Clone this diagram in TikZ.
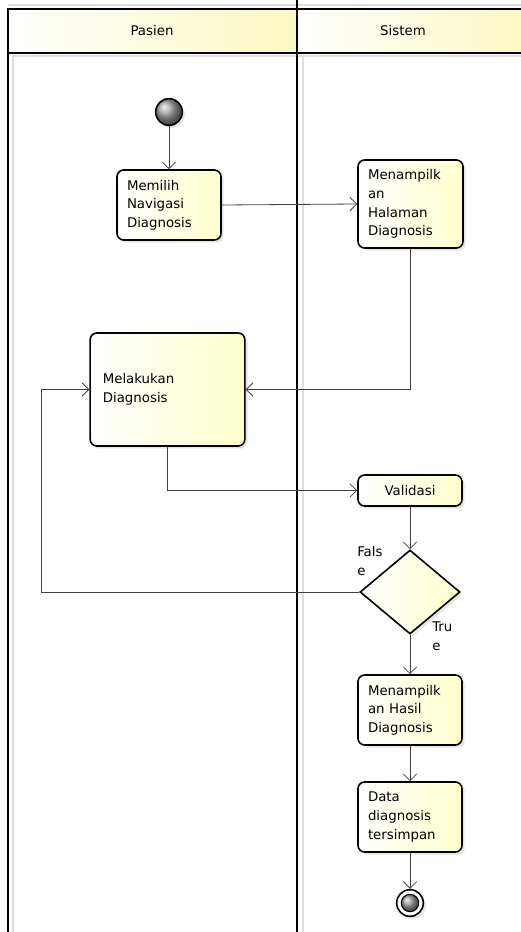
\documentclass[tikz,border=0pt]{standalone}
\usepackage{fontspec}
\setmainfont{DejaVu Sans}
\usetikzlibrary{shapes.geometric,arrows.meta,shadows}
\definecolor{actfill}{RGB}{255,255,205}
\definecolor{lanehead}{RGB}{250,248,192}
\definecolor{shadowgray}{RGB}{222,222,222}

\begin{document}
\begin{tikzpicture}[x=0.75pt,y=-0.75pt,>={Straight Barb[length=5pt,width=10pt]},
    flow/.style={->,draw=black!75,line width=0.6pt},
    act/.style={draw,line width=1.2pt,rounded corners=5pt,left color=white,right color=actfill,
        drop shadow={opacity=0.2,shadow xshift=2pt,shadow yshift=-2pt},
        font=\fontsize{10}{14}\selectfont,align=left,inner xsep=7.5pt,inner ysep=2pt},
    decision/.style={diamond,draw,line width=1.2pt,left color=white,right color=actfill,
        drop shadow={opacity=0.2,shadow xshift=2pt,shadow yshift=-2pt},inner sep=0pt},
    guard/.style={font=\fontsize{10}{14}\selectfont,align=left,inner sep=0pt},
    lanetitle/.style={font=\fontsize{10}{12}\selectfont}]
    \useasboundingbox (0,0) rectangle (521,932);
    % swimlanes
    \fill[left color=white,right color=lanehead] (8,10) rectangle (297,53);
    \fill[left color=white,right color=lanehead] (297,10) rectangle (530,53);
    \draw[shadowgray,line width=0.8pt] (8,5) -- (530,5);
    \draw[shadowgray,line width=1pt] (13,56) -- (530,56);
    \draw[shadowgray,line width=1pt] (13,56) -- (13,940);
    \draw[shadowgray,line width=1pt] (303,56) -- (303,940);
    \draw[line width=1.5pt] (530,9) -- (8,9) -- (8,940);
    \draw[line width=1.5pt] (8,53) -- (530,53);
    \draw[line width=1.5pt] (297,0) -- (297,940);
    \node[lanetitle] (pasien) at (152,31) {Pasien};
    \node[lanetitle] (sistem) at (403,31) {Sistem};
    % nodes
    \node[circle,draw,line width=1.2pt,minimum size=20pt,inner sep=0pt,ball color=gray!75,
        drop shadow={opacity=0.2,shadow xshift=2pt,shadow yshift=-2pt}] (start) at (169,112) {};
    \node[act,text width=63pt,minimum height=52.5pt] (memilih) at (169,205)
        {Memilih\\Navigasi\\Diagnosis};
    \node[act,text width=63.75pt,minimum height=66pt] (halaman) at (410.5,204)
        {Menampilk\\an\\Halaman\\Diagnosis};
    \node[act,text width=97pt,inner xsep=9.5pt,minimum height=84.75pt] (melakukan) at (167.5,389.5)
        {Melakukan\\Diagnosis};
    \node[act,text width=63pt,minimum height=23.25pt,align=center] (validasi) at (410,490.5)
        {Validasi};
    \node[decision,minimum width=75pt,minimum height=63pt] (cek) at (410,592) {};
    \node[act,text width=63pt,minimum height=52.5pt] (hasil) at (410,710)
        {Menampilk\\an Hasil\\Diagnosis};
    \node[act,text width=63pt,minimum height=52.5pt] (simpan) at (410,817)
        {Data\\diagnosis\\tersimpan};
    \node[circle,draw,line width=1.2pt,fill=white,minimum size=20pt,inner sep=0pt,
        drop shadow={opacity=0.2,shadow xshift=2pt,shadow yshift=-2pt}] (akhir) at (410,903) {};
    \node[circle,draw,line width=0.8pt,minimum size=13pt,inner sep=0pt,ball color=gray!75] (akhirdot) at (akhir.center) {};
    \node[guard,anchor=north west] (lblfalse) at (357,546) {Fals\\e};
    \node[guard,anchor=north west] (lbltrue) at (432,622) {Tru\\e};
    \coordinate (balik) at (41,592);
    % flows
    \draw[flow] (start) -- (memilih);
    \draw[flow] (memilih.east) -- (halaman.west);
    \draw[flow] (halaman.south) |- (melakukan.east);
    \draw[flow] (melakukan.south) |- (validasi.west);
    \draw[flow] (validasi) -- (cek);
    \draw[flow] (cek.west) -- (balik) |- (melakukan.west);
    \draw[flow] (cek) -- (hasil);
    \draw[flow] (hasil) -- (simpan);
    \draw[flow] (simpan) -- (akhir);
\end{tikzpicture}
\end{document}
